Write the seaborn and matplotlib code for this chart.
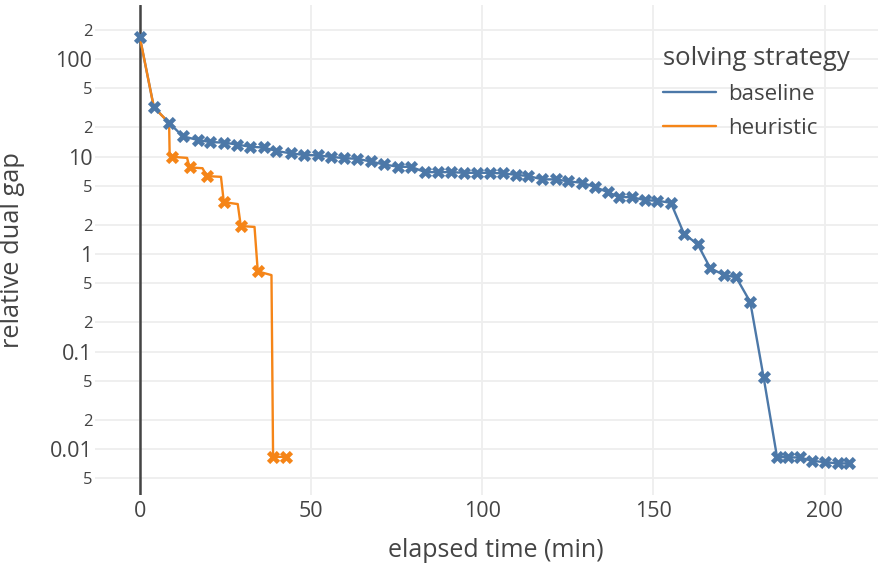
import numpy as np
import pandas as pd
import matplotlib
matplotlib.use('Agg')
import matplotlib.pyplot as plt
from matplotlib.lines import Line2D
import seaborn as sns

# baseline run: one point per logged iteration
baseline_time = [0, 4.1, 8.55, 12.5, 16.9, 20.6, 24.7, 28.4, 32.3, 36.2, 39.9, 44.2,
                 47.9, 52.0, 55.7, 59.6, 63.4, 67.4, 71.2, 75.5, 79.2, 83.3, 87.2, 90.9,
                 94.8, 98.5, 102.2, 106.1, 109.8, 113.5, 117.6, 121.5, 125.2, 129.1,
                 132.9, 136.6, 139.9, 143.9, 147.5, 151.2, 155.1, 159.0, 162.9, 166.6,
                 170.5, 174.2, 178.3, 182.2, 186.1, 189.4, 192.9, 196.2, 200.1, 203.8,
                 207.1]
baseline_gap = [168, 32.0, 22.2, 16.2, 14.8, 14.1, 13.9, 13.3, 12.6, 12.4, 11.4, 10.8,
                10.4, 10.3, 9.95, 9.65, 9.49, 8.93, 8.32, 7.86, 7.86, 6.93, 6.93, 6.93,
                6.82, 6.82, 6.82, 6.72, 6.51, 6.31, 5.84, 5.84, 5.57, 5.39, 4.90, 4.32,
                3.87, 3.82, 3.58, 3.52, 3.36, 1.60, 1.27, 0.719, 0.613, 0.577, 0.322,
                0.0544, 0.00834, 0.00822, 0.00822, 0.00759, 0.00736, 0.00714, 0.00714]

# heuristic run: full path (incl. plateau ends) and the logged points
heuristic_time = [0, 4.1, 8.55, 8.7, 9.34, 13.8, 14.51, 18.3, 19.56, 23.7, 24.53, 28.6,
                  29.49, 33.5, 34.45, 38.45, 38.92, 42.83]
heuristic_gap = [168, 32.0, 22.2, 11.0, 9.95, 9.7, 7.74, 7.6, 6.31, 6.2, 3.41, 3.26,
                 1.94, 1.9, 0.665, 0.609, 0.00834, 0.00834]
heuristic_mark_time = [9.34, 14.51, 19.56, 24.53, 29.49, 34.45, 38.92, 42.83]
heuristic_mark_gap = [9.95, 7.74, 6.31, 3.41, 1.94, 0.665, 0.00834, 0.00834]

strategies = ['baseline', 'heuristic']
palette = {'baseline': '#4c78a8', 'heuristic': '#f58518'}

y_ticks = [0.005, 0.01, 0.02, 0.05, 0.1, 0.2, 0.5, 1, 2, 5, 10, 20, 50, 100, 200]
y_labels = ['5', '0.01', '2', '5', '0.1', '2', '5', '1', '2', '5', '10', '2', '5', '100', '2']
x_ticks = [0, 50, 100, 150, 200]

lines = pd.concat([
    pd.DataFrame({'time': baseline_time, 'gap': baseline_gap, 'strategy': 'baseline'}),
    pd.DataFrame({'time': heuristic_time, 'gap': heuristic_gap, 'strategy': 'heuristic'}),
])
marks = pd.concat([
    pd.DataFrame({'time': baseline_time, 'gap': baseline_gap, 'strategy': 'baseline'}),
    pd.DataFrame({'time': heuristic_mark_time, 'gap': heuristic_mark_gap, 'strategy': 'heuristic'}),
])

sns.set_theme(style='white')
plt.rcParams['font.family'] = ['Open Sans', 'DejaVu Sans']
text_color = '#444444'

fig, ax = plt.subplots(figsize=(8.91, 5.64), dpi=100)
fig.subplots_adjust(left=0.1066, right=0.985, bottom=0.122, top=0.991)

for z, s in [(2.2, 'baseline'), (2.4, 'heuristic')]:
    sns.lineplot(data=lines[lines.strategy == s], x='time', y='gap', color=palette[s],
                 sort=False, estimator=None, lw=1.7, ax=ax, zorder=z)
for z, s in [(2.5, 'heuristic'), (2.6, 'baseline')]:
    sns.scatterplot(data=marks[marks.strategy == s], x='time', y='gap', color=palette[s],
                    marker='X', s=90, linewidth=0, ax=ax, zorder=z)

ax.set_yscale('log')
ax.set_xlim(-13.1, 215.5)
ax.set_ylim(0.00337, 358)
ax.set_yticks(y_ticks)
ax.set_yticklabels(y_labels)
ax.minorticks_off()
ax.set_xticks(x_ticks)
ax.set_xticklabels([str(t) for t in x_ticks])

ax.grid(True, color='#eeeeee', lw=1.3)
ax.set_axisbelow(True)
ax.axvline(0, color='#444444', lw=1.8, zorder=1.5)
for sp in ax.spines.values():
    sp.set_visible(False)

ax.tick_params(axis='both', length=0, colors=text_color)
ax.tick_params(axis='y', pad=2)
ax.tick_params(axis='x', pad=4, labelsize=15.5)
for lab in ax.get_yticklabels():
    lab.set_fontsize(15.5 if lab.get_text() in ('0.01', '0.1', '1', '10', '100') else 12)

ax.set_xlabel('elapsed time (min)', fontsize=18, color=text_color)
ax.set_ylabel('relative dual gap', fontsize=18.3, color=text_color)
ax.xaxis.set_label_coords(0.512, -0.087)
ax.yaxis.set_label_coords(-0.089, 0.5)

handles = [Line2D([], [], color=palette[s], lw=1.7) for s in strategies]
leg = ax.legend(handles, strategies, title='solving strategy', loc='upper left',
                bbox_to_anchor=(663 / 891, 1 - 46 / 564), bbox_transform=fig.transFigure,
                frameon=False, fontsize=16, title_fontsize=18.5, handlelength=2.4,
                handletextpad=0.55, labelspacing=0.6, borderpad=0, borderaxespad=0)
leg._legend_box.align = 'left'
leg._legend_box.sep = 9
plt.setp(leg.get_texts(), color=text_color)
leg.get_title().set_color(text_color)

plt.savefig('out.png', dpi=100)
